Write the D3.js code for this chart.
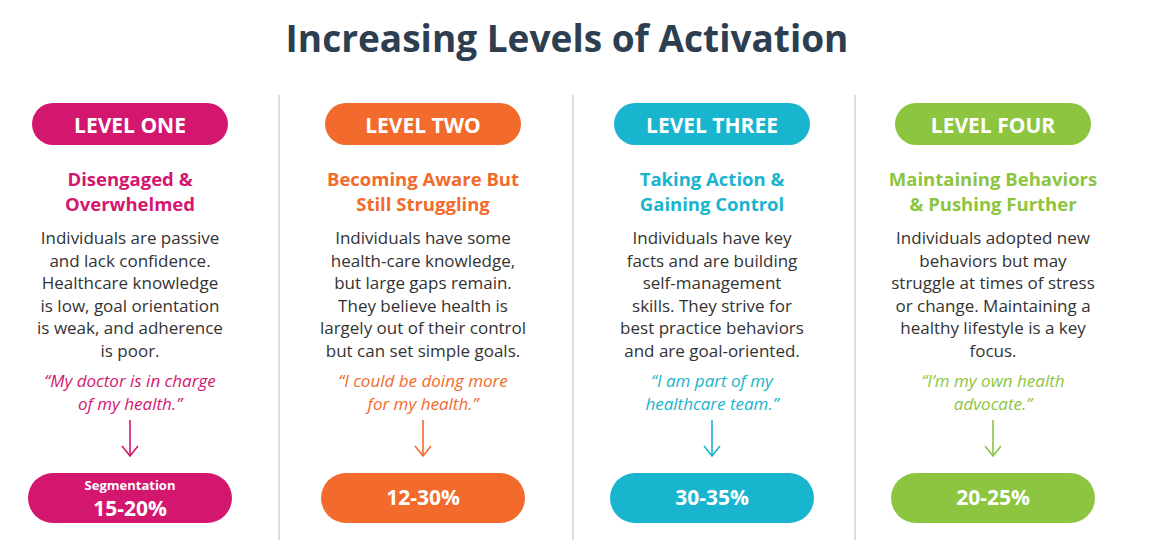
<!DOCTYPE html>
<html><head><meta charset="utf-8">
<script src="https://cdn.jsdelivr.net/npm/d3@7"></script>
<style>body{margin:0;background:#fff}</style>
</head><body>
<svg id="chart" width="1149" height="553"></svg>
<script>
// data
var levels = ['LEVEL ONE', 'LEVEL TWO', 'LEVEL THREE', 'LEVEL FOUR'];
var headings = [['Disengaged &', 'Overwhelmed'], ['Becoming Aware But', 'Still Struggling'],
                ['Taking Action &', 'Gaining Control'], ['Maintaining Behaviors', '& Pushing Further']];
var bodies = [
  ['Individuals are passive', 'and lack confidence.', 'Healthcare knowledge', 'is low, goal orientation', 'is weak, and adherence', 'is poor.'],
  ['Individuals have some', 'health-care knowledge,', 'but large gaps remain.', 'They believe health is', 'largely out of their control', 'but can set simple goals.'],
  ['Individuals have key', 'facts and are building', 'self-management', 'skills. They strive for', 'best practice behaviors', 'and are goal-oriented.'],
  ['Individuals adopted new', 'behaviors but may', 'struggle at times of stress', 'or change. Maintaining a', 'healthy lifestyle is a key', 'focus.']];
var quotes = [['\u201cMy doctor is in charge', 'of my health.\u201d'], ['\u201cI could be doing more', 'for my health.\u201d'],
              ['\u201cI am part of my', 'healthcare team.\u201d'], ['\u201cI\u2019m my own health', 'advocate.\u201d']];
var segments = ['15-20%', '12-30%', '30-35%', '20-25%'];
var colors = ['#d3176f', '#f26b2c', '#19b4cd', '#8dc540'];
var centers = [130, 423, 712, 993];
var dividers = [279, 573, 855];

var svg = d3.select('#chart');
var x = d3.scaleOrdinal().domain(levels).range(centers);
var font = '"Open Sans", sans-serif';

svg.append('text').attr('x', 567).attr('y', 52).attr('text-anchor', 'middle')
  .attr('font-family', font).attr('font-weight', 700).attr('font-size', 37)
  .attr('fill', '#2c3e50').text('Increasing Levels of Activation');

svg.selectAll('line.div').data(dividers).enter().append('line')
  .attr('x1', function(d){ return d; }).attr('x2', function(d){ return d; })
  .attr('y1', 95).attr('y2', 540).attr('stroke', '#d8dde2').attr('stroke-width', 2);

var col = svg.selectAll('g.col').data(levels).enter().append('g')
  .attr('transform', function(d){ return 'translate(' + x(d) + ',0)'; });

col.append('rect').attr('x', -98).attr('y', 103).attr('width', 196).attr('height', 42).attr('rx', 21)
  .attr('fill', function(d, i){ return colors[i]; });
col.append('text').attr('y', 133).attr('text-anchor', 'middle').attr('font-family', font)
  .attr('font-weight', 700).attr('font-size', 21).attr('fill', '#fff').text(function(d){ return d; });

col.each(function(d, i){
  var g = d3.select(this);
  headings[i].forEach(function(t, j){
    g.append('text').attr('y', 186 + j * 25).attr('text-anchor', 'middle').attr('font-family', font)
      .attr('font-weight', 700).attr('font-size', 18.5).attr('fill', colors[i]).text(t);
  });
  bodies[i].forEach(function(t, j){
    g.append('text').attr('y', 244 + j * 22.5).attr('text-anchor', 'middle').attr('font-family', font)
      .attr('font-size', 17).attr('fill', '#333').text(t);
  });
  quotes[i].forEach(function(t, j){
    g.append('text').attr('y', 387 + j * 23).attr('text-anchor', 'middle').attr('font-family', font)
      .attr('font-style', 'italic').attr('font-size', 17).attr('fill', colors[i]).text(t);
  });
  g.append('line').attr('x1', 0).attr('x2', 0).attr('y1', 420).attr('y2', 455)
    .attr('stroke', colors[i]).attr('stroke-width', 1.6);
  g.append('path').attr('d', 'M-8,446 L0,456 L8,446').attr('fill', 'none')
    .attr('stroke', colors[i]).attr('stroke-width', 1.6);
  g.append('rect').attr('x', -102).attr('y', 473).attr('width', 204).attr('height', 50).attr('rx', 25)
    .attr('fill', colors[i]);
  if (i === 0) {
    g.append('text').attr('y', 490).attr('text-anchor', 'middle').attr('font-family', font)
      .attr('font-weight', 700).attr('font-size', 13).attr('fill', '#fff').text('Segmentation');
    g.append('text').attr('y', 516).attr('text-anchor', 'middle').attr('font-family', font)
      .attr('font-weight', 700).attr('font-size', 21).attr('fill', '#fff').text(segments[i]);
  } else {
    g.append('text').attr('y', 505).attr('text-anchor', 'middle').attr('font-family', font)
      .attr('font-weight', 700).attr('font-size', 21).attr('fill', '#fff').text(segments[i]);
  }
});
</script>
</body></html>
